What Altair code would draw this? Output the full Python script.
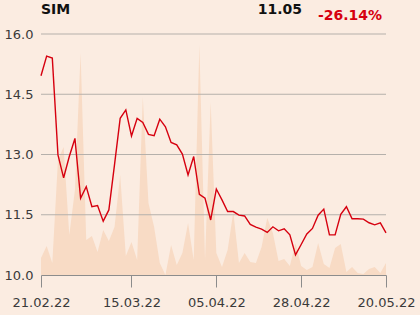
import altair as alt
import pandas as pd

# Closing prices (one per trading day, index-based x)
prices = [14.96, 15.45, 15.40, 12.99, 12.42, 12.95, 13.40, 11.91, 12.20, 11.70,
          11.73, 11.34, 11.62, 12.75, 13.90, 14.11, 13.46, 13.90, 13.80, 13.50,
          13.47, 13.88, 13.69, 13.30, 13.24, 13.01, 12.49, 12.95, 12.01, 11.91,
          11.37, 12.14, 11.87, 11.58, 11.58, 11.49, 11.47, 11.26, 11.19, 11.14,
          11.06, 11.20, 11.10, 11.15, 11.00, 10.50, 10.76, 11.02, 11.16, 11.49,
          11.64, 11.00, 11.00, 11.51, 11.70, 11.40, 11.40, 11.39, 11.30, 11.25,
          11.30, 11.05]
# Trading volume (relative units)
volumes = [17, 29, 12, 115, 128, 40, 85, 222, 35, 39,
           23, 45, 34, 48, 100, 19, 33, 15, 178, 72,
           48, 12, 0, 30, 10, 22, 52, 15, 230, 15,
           173, 22, 8, 25, 63, 12, 22, 13, 12, 28,
           57, 42, 14, 16, 9, 32, 9, 5, 8, 32,
           11, 7, 27, 31, 3, 8, 2, 1, 6, 8,
           2, 12]
x_tick_pos = [0, 16, 31, 46, 61]
x_tick_labels = ["21.02.22", "15.03.22", "05.04.22", "28.04.22", "20.05.22"]
y_ticks = [10.0, 11.5, 13.0, 14.5, 16.0]
title_name = "SIM"
last_price = "11.05"
change = "-26.14%"

df = pd.DataFrame({"i": list(range(len(prices))), "price": prices, "vol": volumes})
grid_df = pd.DataFrame({"tick": y_ticks[1:]})

label_expr = "''"
for p, l in reversed(list(zip(x_tick_pos, x_tick_labels))):
    label_expr = f"datum.value == {p} ? '{l}' : ({label_expr})"

FONT = "DejaVu Sans"
xscale = alt.Scale(domain=[0, len(prices) - 1], nice=False, zero=False)
yscale = alt.Scale(domain=[10, 16], nice=False, zero=False)
xaxis = alt.Axis(values=x_tick_pos, labelExpr=label_expr, grid=False,
                 domainColor="#8c8c8c", tickColor="#8c8c8c", tickSize=12,
                 labelPadding=9, labelFont=FONT, labelFontSize=13,
                 labelColor="#3a3a3a", labelFlush=False)

area = alt.Chart(df).mark_area(color="#f8dbc5", interpolate="linear").encode(
    x=alt.X("i:Q", scale=xscale, title=None, axis=xaxis),
    y=alt.Y("vol:Q", scale=alt.Scale(domain=[0, 241], nice=False), axis=None),
)

grid = alt.Chart(grid_df).mark_rule(color="#b5b0ab", strokeWidth=1).encode(
    y=alt.Y("tick:Q", scale=yscale, axis=None),
)

line = alt.Chart(df).mark_line(color="#d6000f", strokeWidth=1.4).encode(
    x=alt.X("i:Q", scale=xscale, title=None, axis=xaxis),
    y=alt.Y("price:Q", scale=yscale, title=None,
            axis=alt.Axis(values=y_ticks, format=".1f", grid=False, domain=False,
                          ticks=False, labelPadding=8, labelFont=FONT,
                          labelFontSize=13, labelColor="#3a3a3a")),
)

t1 = alt.Chart(pd.DataFrame({"t": [title_name]})).mark_text(
    font=FONT, fontSize=14, fontWeight="bold", color="#111111",
    align="left", baseline="middle").encode(
    text="t:N", x=alt.value(0), y=alt.value(-24))
t2 = alt.Chart(pd.DataFrame({"t": [last_price]})).mark_text(
    font=FONT, fontSize=14, fontWeight="bold", color="#111111",
    align="right", baseline="middle").encode(
    text="t:N", x=alt.value(261), y=alt.value(-24.5))
t3 = alt.Chart(pd.DataFrame({"t": [change]})).mark_text(
    font=FONT, fontSize=14, fontWeight="bold", color="#d6000f",
    align="right", baseline="middle").encode(
    text="t:N", x=alt.value(341), y=alt.value(-18))

chart = alt.layer(area, grid, line, t1, t2, t3).resolve_scale(y="independent").properties(
    width=345, height=241,
    background="#fbece1",
    padding={"left": 41, "top": 34, "right": 34, "bottom": 40},
    autosize=alt.AutoSizeParams(type="none"),
).configure_view(stroke=None)

chart.save("out.html", embed_options={"renderer": "svg", "actions": False})
